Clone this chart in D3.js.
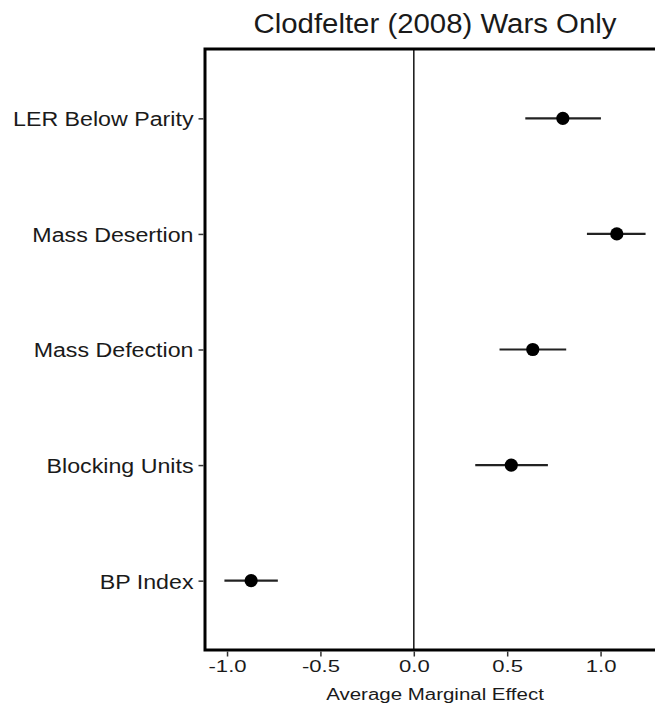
<!DOCTYPE html>
<html>
<head>
<meta charset="utf-8">
<script src="https://cdn.jsdelivr.net/npm/d3@7"></script>
<style>
  html, body { margin: 0; padding: 0; background: #fff; }
  svg { display: block; font-family: "Liberation Sans", Arial, Helvetica, sans-serif; }
</style>
</head>
<body>
<svg id="chart" width="655" height="709"></svg>
<script>
const categories = ["LER Below Parity", "Mass Desertion", "Mass Defection", "Blocking Units", "BP Index"];
const estimates = [0.798, 1.087, 0.637, 0.522, -0.871];
const lower = [0.597, 0.927, 0.459, 0.329, -1.014];
const upper = [1.002, 1.241, 0.816, 0.718, -0.728];
const xTicks = [-1.0, -0.5, 0.0, 0.5, 1.0];
const title = "Clodfelter (2008) Wars Only";
const xTitle = "Average Marginal Effect";

const svg = d3.select("#chart");
const panel = { left: 205, right: 665, top: 49, bottom: 650 };

const x = d3.scaleLinear().domain([-1.118, 1.345]).range([panel.left, panel.right]);
const y = d3.scalePoint().domain(categories).range([panel.top, panel.bottom]).padding(0.6);

// zero reference line
svg.append("line")
  .attr("x1", x(0)).attr("x2", x(0))
  .attr("y1", panel.top).attr("y2", panel.bottom)
  .attr("stroke", "#222").attr("stroke-width", 1.6);

// error bars
const data = categories.map((c, i) => ({ c, est: estimates[i], lo: lower[i], hi: upper[i] }));
svg.selectAll("line.err").data(data).enter().append("line")
  .attr("class", "err")
  .attr("x1", d => x(d.lo)).attr("x2", d => x(d.hi))
  .attr("y1", d => y(d.c)).attr("y2", d => y(d.c))
  .attr("stroke", "#222").attr("stroke-width", 2.2);

svg.selectAll("circle.pt").data(data).enter().append("circle")
  .attr("class", "pt")
  .attr("cx", d => x(d.est)).attr("cy", d => y(d.c))
  .attr("r", 6.6).attr("fill", "#000");

// panel border
svg.append("rect")
  .attr("x", panel.left).attr("y", panel.top)
  .attr("width", panel.right - panel.left).attr("height", panel.bottom - panel.top)
  .attr("fill", "none").attr("stroke", "#000").attr("stroke-width", 3);

// helper: horizontally widen text around its anchor
function widen(sel, sx) {
  sel.each(function() {
    const t = d3.select(this);
    const x0 = +t.attr("x") || 0;
    t.attr("x", x0 / sx).attr("transform", `scale(${sx},1)`);
  });
}

// x axis
const xAxis = d3.axisBottom(x).tickValues(xTicks).tickFormat(d3.format(".1f")).tickSize(5).tickSizeOuter(0).tickPadding(3);
const gx = svg.append("g").attr("transform", `translate(0,${panel.bottom + 1.5})`).call(xAxis);
gx.select(".domain").remove();
gx.selectAll(".tick line").attr("stroke", "#333").attr("stroke-width", 1.5);
gx.selectAll(".tick text").attr("fill", "#1a1a1a").style("font-size", "17px")
  .text(d => d3.format(".1f")(d).replace("−", "-"));
widen(gx.selectAll(".tick text"), 1.3);

// y axis
const yAxis = d3.axisLeft(y).tickSize(5).tickSizeOuter(0).tickPadding(5);
const gy = svg.append("g").attr("transform", `translate(${panel.left - 1.5},0)`).call(yAxis);
gy.select(".domain").remove();
gy.selectAll(".tick line").attr("stroke", "#333").attr("stroke-width", 1.5);
gy.selectAll(".tick text").attr("fill", "#1a1a1a").style("font-size", "19.5px").attr("dy", "0.38em");
widen(gy.selectAll(".tick text"), 1.19);

// titles
const cx = (panel.left + panel.right) / 2;
svg.append("g").attr("transform", `translate(${cx},33)`)
  .append("text")
  .attr("text-anchor", "middle").attr("fill", "#1a1a1a")
  .attr("transform", "scale(1.05,1)")
  .style("font-size", "28px").text(title);

svg.append("g").attr("transform", `translate(${cx},700)`)
  .append("text")
  .attr("text-anchor", "middle").attr("fill", "#1a1a1a")
  .attr("transform", "scale(1.28,1)")
  .style("font-size", "16px").text(xTitle);
</script>
</body>
</html>
